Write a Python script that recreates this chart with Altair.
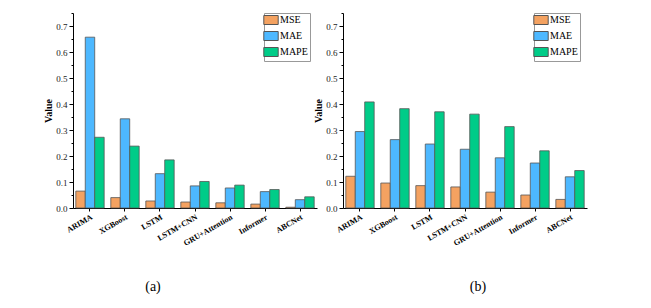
import altair as alt
import pandas as pd

models = ["ARIMA", "XGBoost", "LSTM", "LSTM+CNN", "GRU+Attention", "Informer", "ABCNet"]
metrics = ["MSE", "MAE", "MAPE"]
colors = ["#F4A261", "#4DB8FF", "#00CC88"]

a_mse = [0.065, 0.040, 0.027, 0.023, 0.020, 0.015, 0.003]
a_mae = [0.657, 0.343, 0.132, 0.085, 0.077, 0.063, 0.032]
a_mape = [0.272, 0.238, 0.185, 0.102, 0.088, 0.071, 0.043]

b_mse = [0.122, 0.096, 0.086, 0.081, 0.061, 0.050, 0.033]
b_mae = [0.294, 0.263, 0.246, 0.226, 0.193, 0.173, 0.120]
b_mape = [0.408, 0.382, 0.370, 0.361, 0.313, 0.220, 0.144]

y_ticks = [0.0, 0.05, 0.1, 0.15, 0.2, 0.25, 0.3, 0.35, 0.4, 0.45, 0.5, 0.55, 0.6, 0.65, 0.7, 0.75]

FONT = "Liberation Serif"


def make_df(mse, mae, mape):
    rows = []
    for i, m in enumerate(models):
        for met, vals in zip(metrics, [mse, mae, mape]):
            rows.append({"Model": m, "Metric": met, "Value": vals[i]})
    return pd.DataFrame(rows)


def panel(df, label, dx):
    bars = alt.Chart(df).mark_bar(stroke="#555555", strokeWidth=0.8).encode(
        x=alt.X("Model:N", sort=models, title=None,
                scale=alt.Scale(paddingInner=0.19, paddingOuter=0.08),
                axis=alt.Axis(labelAngle=-30, labelFontWeight="bold", labelFont=FONT,
                              labelFontSize=8, tickSize=3, domainColor="black",
                              tickColor="black", labelColor="black", labelPadding=2)),
        xOffset=alt.XOffset("Metric:N", sort=metrics, scale=alt.Scale(paddingInner=0)),
        y=alt.Y("Value:Q", scale=alt.Scale(domain=[0, 0.75], nice=False),
                axis=alt.Axis(values=y_ticks, format=".1f",
                              labelExpr="round(datum.value*100) % 10 == 0 && datum.value < 0.74 ? format(datum.value, '.1f') : ''",
                              tickSize={"condition": {"test": "round(datum.value*100) % 10 != 0", "value": 2}, "value": 4},
                              title="Value", titleFont=FONT, titleFontWeight="bold",
                              titleFontSize=10, titleColor="black", titlePadding=2,
                              labelFont=FONT, labelFontSize=9, labelColor="#222222",
                              domainColor="black", tickColor="black", grid=False,
                              labelPadding=2)),
        color=alt.Color("Metric:N", sort=metrics,
                        scale=alt.Scale(domain=metrics, range=colors),
                        legend=alt.Legend(orient="none", legendX=191, legendY=0, title=None,
                                          strokeColor="#999999", padding=2,
                                          symbolType="M-1.6,-1H1.6V1H-1.6Z", symbolSize=81,
                                          symbolStrokeColor="#555555", symbolStrokeWidth=1,
                                          labelFont=FONT, labelFontSize=10, labelColor="black",
                                          rowPadding=2, labelOffset=4)),
    ).properties(
        width=244, height=195,
        title=alt.TitleParams(label, orient="bottom", font=FONT, fontSize=14,
                              fontWeight="normal", color="black", frame="group",
                              anchor="middle", dx=dx, offset=33),
    )
    return bars


left = panel(make_df(a_mse, a_mae, a_mape), "(a)", -42)
right = panel(make_df(b_mse, b_mae, b_mape), "(b)", 13)

chart = alt.hconcat(left, right, spacing=-4).resolve_legend(color="independent").properties(
    padding={"left": 35, "top": 4, "right": 5, "bottom": 5}
).configure_view(stroke=None)

chart.save("out.html", embed_options={"renderer": "svg", "actions": False})
